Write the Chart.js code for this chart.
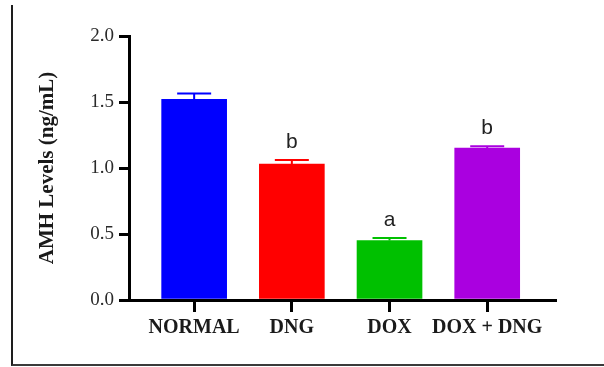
<!DOCTYPE html>
<html>
<head>
<meta charset="utf-8">
<script src="https://cdn.jsdelivr.net/npm/chart.js@4.4.1/dist/chart.umd.min.js"></script>
<style>
  html, body { margin: 0; padding: 0; background: #fff; }
  #caja { position: relative; width: 604px; height: 367px; }
  #grafico { display: block; }
  #marco { position: absolute; left: 11px; top: 5px; width: 593px; height: 359px;
           border-left: 2px solid #1e1e1e; border-bottom: 2px solid #3a3a3a; pointer-events: none; }
</style>
</head>
<body>
<div id="caja">
  <canvas id="grafico" width="604" height="367"></canvas>
  <div id="marco"></div>
</div>
<script>
// Datos
const grupos = ["NORMAL", "DNG", "DOX", "DOX + DNG"];
const amh = [1.52, 1.03, 0.45, 1.15];           // ng/mL
const errorEstandar = [0.045, 0.03, 0.02, 0.015];
const letras = ["", "b", "a", "b"];
const ticksY = [0, 0.5, 1.0, 1.5, 2.0];

const colores = ["#0000ff", "#ff0000", "#00c000", "#aa00e0"];
const fuenteSerif = '"Liberation Serif", "Times New Roman", serif';

// Barras de error (solo hacia arriba) y letras de significancia
const barrasError = {
    id: 'barrasError',
    afterDatasetsDraw(chart) {
        const ctx = chart.ctx;
        const meta = chart.getDatasetMeta(0);
        const escalaY = chart.scales.y;
        ctx.save();
        meta.data.forEach((barra, i) => {
            const yBarra = escalaY.getPixelForValue(amh[i]);
            const yTope = escalaY.getPixelForValue(amh[i] + errorEstandar[i]);
            ctx.strokeStyle = colores[i];
            ctx.lineWidth = 2;
            ctx.beginPath();
            ctx.moveTo(barra.x, yBarra);
            ctx.lineTo(barra.x, yTope);
            ctx.moveTo(barra.x - 17, yTope);
            ctx.lineTo(barra.x + 17, yTope);
            ctx.stroke();
            if (letras[i]) {
                ctx.fillStyle = '#222';
                ctx.font = '21px "Liberation Sans", Arial, sans-serif';
                ctx.textAlign = 'center';
                ctx.textBaseline = 'alphabetic';
                ctx.fillText(letras[i], barra.x, yTope - 12);
            }
        });
        ctx.restore();
    }
};

const ctx = document.getElementById('grafico').getContext('2d');

new Chart(ctx, {
    type: 'bar',
    data: {
        datasets: [{
            data: amh.map((v, i) => ({ x: i, y: v })),
            backgroundColor: colores,
            borderWidth: 0,
            barThickness: 65
        }]
    },
    options: {
        responsive: false,
        animation: false,
        layout: { padding: { top: 36, right: 49, bottom: 23, left: 35 } },
        plugins: {
            legend: { display: false },
            tooltip: { enabled: false }
        },
        scales: {
            x: {
                type: 'linear',
                min: -0.667,
                max: 3.694,
                offset: false,
                afterBuildTicks: (s) => { s.ticks = grupos.map((g, i) => ({ value: i })); },
                border: { display: true, color: '#000', width: 3 },
                grid: { display: true, offset: false, drawOnChartArea: false, drawTicks: true,
                        tickLength: 12, tickWidth: 3, tickColor: '#000', lineWidth: 3, color: '#000' },
                ticks: {
                    callback: (v) => grupos[v],
                    color: '#1a1a1a',
                    padding: 4,
                    maxRotation: 0,
                    autoSkip: false,
                    font: { family: fuenteSerif, size: 20, weight: 'bold' }
                }
            },
            y: {
                min: 0,
                max: 2,
                afterBuildTicks: (s) => { s.ticks = ticksY.map(v => ({ value: v })); },
                afterFit: (s) => { s.width = 94; },
                border: { display: true, color: '#000', width: 3 },
                grid: { display: true, drawOnChartArea: false, drawTicks: true,
                        tickLength: 10, tickWidth: 3, tickColor: '#000', lineWidth: 3, color: '#000' },
                ticks: {
                    callback: (v) => Number(v).toFixed(1),
                    color: '#2a2a2a',
                    padding: 5,
                    font: { family: fuenteSerif, size: 19 }
                },
                title: {
                    display: true,
                    text: 'AMH Levels (ng/mL)',
                    color: '#1a1a1a',
                    padding: { top: 0, bottom: 0 },
                    font: { family: fuenteSerif, size: 21, weight: 'bold' }
                }
            }
        }
    },
    plugins: [barrasError]
});
</script>
</body>
</html>
